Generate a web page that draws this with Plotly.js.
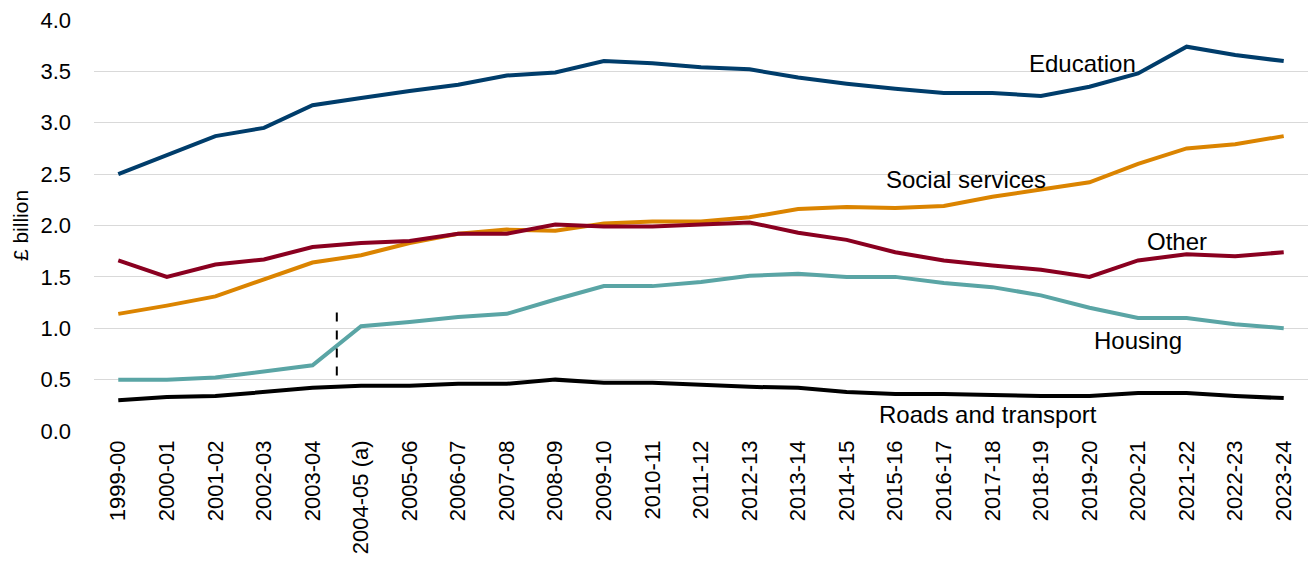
<!DOCTYPE html>
<html>
<head>
<meta charset="utf-8">
<script src="https://cdn.plot.ly/plotly-3.0.1.min.js"></script>
<style>html,body{margin:0;padding:0;background:#fff;}#chart{width:1312px;height:572px;}</style>
</head>
<body>
<div id="chart"></div>
<script>
const years = ["1999-00","2000-01","2001-02","2002-03","2003-04","2004-05 (a)","2005-06","2006-07","2007-08","2008-09","2009-10","2010-11","2011-12","2012-13","2013-14","2014-15","2015-16","2016-17","2017-18","2018-19","2019-20","2020-21","2021-22","2022-23","2023-24"];
const education = [2.50,2.68,2.87,2.95,3.17,3.24,3.31,3.37,3.46,3.49,3.60,3.58,3.54,3.52,3.44,3.38,3.33,3.29,3.29,3.26,3.35,3.48,3.74,3.66,3.60];
const socialServices = [1.14,1.22,1.31,1.47,1.64,1.71,1.83,1.92,1.96,1.95,2.02,2.04,2.04,2.08,2.16,2.18,2.17,2.19,2.28,2.35,2.42,2.60,2.75,2.79,2.87];
const other = [1.66,1.50,1.62,1.67,1.79,1.83,1.85,1.92,1.92,2.01,1.99,1.99,2.01,2.03,1.93,1.86,1.74,1.66,1.61,1.57,1.50,1.66,1.72,1.70,1.74];
const housing = [0.50,0.50,0.52,0.58,0.64,1.02,1.06,1.11,1.14,1.28,1.41,1.41,1.45,1.51,1.53,1.50,1.50,1.44,1.40,1.32,1.20,1.10,1.10,1.04,1.00];
const roads = [0.30,0.33,0.34,0.38,0.42,0.44,0.44,0.46,0.46,0.50,0.47,0.47,0.45,0.43,0.42,0.38,0.36,0.36,0.35,0.34,0.34,0.37,0.37,0.34,0.32];

const seriesNames = ["Education","Social services","Other","Housing","Roads and transport"];
const seriesData = [education, socialServices, other, housing, roads];
const seriesColors = ["#003D6B","#DB8400","#8A0020","#5AA5A5","#000000"];
// label positions (category index, value)
const labelX = [19.85, 17.45, 21.8, 21.0, 17.9];
const labelY = [3.58, 2.45, 1.84, 0.88, 0.16];
// break marker between 2003-04 and 2004-05
const breakX = 4.5, breakY0 = 0.54, breakY1 = 1.16;

const xIdx = years.map((_, i) => i);
const traces = seriesData.map((d, k) => ({
  x: xIdx, y: d, type: 'scatter', mode: 'lines', name: seriesNames[k],
  line: {color: seriesColors[k], width: 4}, hoverinfo: 'skip'
}));

const annotations = seriesNames.map((n, k) => ({
  x: labelX[k], y: labelY[k], xref: 'x', yref: 'y', text: n, showarrow: false,
  font: {family: 'Liberation Sans, Arial, sans-serif', size: 24, color: '#000'}
}));

const layout = {
  width: 1312, height: 572,
  margin: {l: 94, r: 4, t: 20, b: 141},
  paper_bgcolor: '#fff', plot_bgcolor: '#fff',
  showlegend: false,
  font: {family: 'Liberation Sans, Arial, sans-serif', color: '#000'},
  xaxis: {
    type: 'linear', range: [-0.5, 24.5], tickmode: 'array', tickvals: xIdx, ticktext: years,
    tickangle: -90, tickfont: {size: 22, color: '#000'}, showgrid: false, zeroline: false,
    showline: false, ticks: '', ticklabelstandoff: 4
  },
  yaxis: {
    range: [0, 4], dtick: 0.5, tickformat: '.1f', tickfont: {size: 22, color: '#000'},
    gridcolor: '#D9D9D9', gridwidth: 1, zeroline: false, showline: false, ticks: '',
    ticklabelstandoff: 22,
    title: {text: '£ billion', font: {size: 21, color: '#000'}, standoff: 6}
  },
  shapes: [{type: 'line', xref: 'x', yref: 'y', x0: breakX, x1: breakX, y0: breakY0, y1: breakY1,
    line: {color: '#000', width: 2, dash: 'dash'}}],
  annotations: annotations
};

Plotly.newPlot('chart', traces, layout, {displayModeBar: false, staticPlot: true});
</script>
</body>
</html>
